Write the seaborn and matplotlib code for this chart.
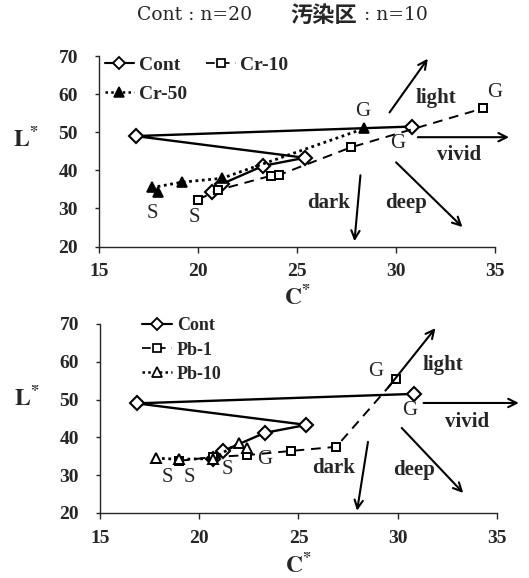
import matplotlib
matplotlib.use("Agg")
import matplotlib.pyplot as plt
import seaborn as sns
import pandas as pd
from matplotlib.lines import Line2D

# ---------------- data ----------------
cont_c = [20.7, 21.2, 23.3, 25.4, 16.85, 30.8]
cont_l = [34.4, 36.4, 41.2, 43.3, 49.0, 51.5]

cr10_c = [20.0, 21.0, 23.7, 24.1, 27.7, 34.4]
cr10_l = [32.3, 34.8, 38.6, 38.8, 46.0, 56.3]

cr50_c = [18.0, 17.7, 19.2, 21.2, 28.4]
cr50_l = [34.3, 35.5, 36.9, 37.9, 51.0]

pb1_c = [19.0, 20.7, 22.4, 24.6, 26.9, 29.9]
pb1_l = [33.8, 34.8, 35.3, 36.4, 37.5, 55.5]

pb10_c = [17.8, 19.0, 20.7, 22.0, 22.4]
pb10_l = [34.5, 34.2, 34.4, 38.5, 37.2]

x_ticks = [15, 20, 25, 30, 35]
y_ticks = [20, 30, 40, 50, 60, 70]

title_parts = ["Cont : n=20", "汚染区", ": n=10"]

# point labels (text, C*, L*)
top_point_labels = [("S", 17.7, 28.6), ("S", 19.8, 27.6),
                    ("G", 28.3, 55.5), ("G", 35.0, 60.5), ("G", 30.1, 47.0)]
bot_point_labels = [("S", 18.4, 29.3), ("S", 19.5, 29.3), ("S", 21.4, 31.4),
                    ("G", 28.9, 57.3), ("G", 30.6, 47.2), ("G", 23.3, 34.2)]

# direction arrows (start, tip) and their labels
top_arrows = [((29.67, 55.2), (31.6, 69.3)), ((31.1, 48.7), (35.7, 48.7)),
              ((28.2, 38.7), (27.9, 21.4)), ((30.0, 42.1), (33.35, 25.1))]
top_dir_labels = [("light", 32.0, 59.1), ("vivid", 33.2, 44.0),
                  ("dark", 26.6, 31.4), ("deep", 30.5, 31.4)]
bot_arrows = [((29.5, 53.1), (31.9, 68.9)), ((31.3, 49.1), (36.1, 49.1)),
              ((28.5, 38.8), (27.95, 20.6)), ((30.2, 42.5), (33.3, 25.3))]
bot_dir_labels = [("light", 32.3, 59.2), ("vivid", 33.5, 44.1),
                  ("dark", 26.75, 31.9), ("deep", 30.8, 31.4)]

# ---------------- style ----------------
sns.set_style("ticks")
plt.rcParams['font.family'] = ['Liberation Serif', 'Noto Sans CJK JP', 'DejaVu Sans']
plt.rcParams['mathtext.fontset'] = 'stix'

fig = plt.figure(figsize=(5.29, 5.78), dpi=100)
ax1 = fig.add_axes([0.187, 0.5735, 0.749, 0.3295])
ax2 = fig.add_axes([0.189, 0.1125, 0.7505, 0.327])

SERIES = {
    "Cont": dict(marker='D', ms=7, mfc='white', mec='black', mew=1.5, ls='-', lw=1.7),
    "Cr-10": dict(marker='s', ms=6, mfc='white', mec='black', mew=1.4, ls=(0, (5, 3.5)), lw=1.4),
    "Cr-50": dict(marker='^', ms=7.5, mfc='black', mec='black', mew=1.2, ls=(0, (1, 1.3)), lw=2.0),
    "Pb-1": dict(marker='s', ms=6, mfc='white', mec='black', mew=1.4, ls=(0, (5, 3.5)), lw=1.4),
    "Pb-10": dict(marker='^', ms=7.5, mfc='white', mec='black', mew=1.4, ls=(0, (1, 1.3)), lw=2.0),
}


def draw_series(ax, name, cs, ls_):
    df = pd.DataFrame({"C": cs, "L": ls_})
    st = SERIES[name]
    sns.lineplot(data=df, x="C", y="L", ax=ax, sort=False, estimator=None,
                 color='black', marker=st['marker'], markersize=st['ms'],
                 markerfacecolor=st['mfc'], markeredgecolor=st['mec'],
                 markeredgewidth=st['mew'], linestyle=st['ls'], linewidth=st['lw'],
                 clip_on=False)


def handle(name):
    st = SERIES[name]
    return Line2D([], [], color='black', marker=st['marker'], markersize=st['ms'] * 0.9,
                  markerfacecolor=st['mfc'], markeredgecolor=st['mec'],
                  markeredgewidth=st['mew'] * 0.9, linestyle=st['ls'], linewidth=st['lw'] * 0.9)


def style_axes(ax, ylab_y, xlab_y):
    ax.set_xlim(15, 35)
    ax.set_ylim(20, 70)
    ax.set_xticks(x_ticks)
    ax.set_yticks(y_ticks)
    sns.despine(ax=ax)
    ax.tick_params(axis='x', direction='out', length=4, width=1, pad=8, labelsize=14)
    ax.tick_params(axis='y', direction='out', length=3, width=1, pad=12, labelsize=14)
    for lab in ax.get_xticklabels() + ax.get_yticklabels():
        lab.set_fontweight('bold')
    ax.set_xlabel(r'$\mathbf{C^{*}}$', fontsize=17)
    ax.set_ylabel(r'$\mathbf{L^{*}}$', fontsize=17, rotation=0)
    ax.xaxis.set_label_coords(0.5, xlab_y)
    ax.yaxis.set_label_coords(-0.185, ylab_y)
    for sp in ax.spines.values():
        sp.set_linewidth(1.0)


def annotate(ax, point_labels, arrows, dir_labels):
    for t, x, y in point_labels:
        ax.text(x, y, t, fontsize=15, ha='center', va='center', clip_on=False)
    for (s, e) in arrows:
        ax.annotate('', xy=e, xytext=s, annotation_clip=False,
                    arrowprops=dict(arrowstyle='->,head_length=0.6,head_width=0.3',
                                    lw=1.5, color='black', shrinkA=0, shrinkB=0))
    for t, x, y in dir_labels:
        ax.text(x, y, t, fontsize=15, fontweight='bold', ha='center', va='center',
                clip_on=False)


# top panel
draw_series(ax1, "Cont", cont_c, cont_l)
draw_series(ax1, "Cr-10", cr10_c, cr10_l)
draw_series(ax1, "Cr-50", cr50_c, cr50_l)
style_axes(ax1, 0.50, -0.20)
annotate(ax1, top_point_labels, top_arrows, top_dir_labels)
leg1 = ax1.legend([handle("Cont"), handle("Cr-50"), handle("Cr-10")],
                  ["Cont", "Cr-50", "Cr-10"], ncol=2, loc='upper left',
                  bbox_to_anchor=(0.015, 1.0), frameon=False, borderpad=0,
                  borderaxespad=0, handlelength=1.5, handletextpad=0.25,
                  labelspacing=0.6, columnspacing=1.0,
                  prop={'family': 'Liberation Serif', 'weight': 'bold', 'size': 14})

# bottom panel
draw_series(ax2, "Cont", cont_c, cont_l)
draw_series(ax2, "Pb-1", pb1_c, pb1_l)
draw_series(ax2, "Pb-10", pb10_c, pb10_l)
style_axes(ax2, 0.545, -0.21)
annotate(ax2, bot_point_labels, bot_arrows, bot_dir_labels)
leg2 = ax2.legend([handle("Cont"), handle("Pb-1"), handle("Pb-10")],
                  ["Cont", "Pb-1", "Pb-10"], ncol=1, loc='upper left',
                  bbox_to_anchor=(0.105, 1.035), frameon=False, borderpad=0,
                  borderaxespad=0, handlelength=1.7, handletextpad=0.25,
                  labelspacing=0.4,
                  prop={'family': 'Liberation Serif', 'weight': 'bold', 'size': 13})

# title in three pieces (Latin / kanji / Latin)
fig.text(137 / 529, 0.974, title_parts[0], ha='left', va='center', fontsize=13.5,
         family='DejaVu Serif')
fig.text(290 / 529, 0.974, title_parts[1], ha='left', va='center', fontsize=16,
         fontweight='bold', family='Noto Sans CJK JP')
fig.text(364 / 529, 0.974, title_parts[2], ha='left', va='center', fontsize=13.5,
         family='DejaVu Serif')

fig.savefig("out.png", dpi=100)
